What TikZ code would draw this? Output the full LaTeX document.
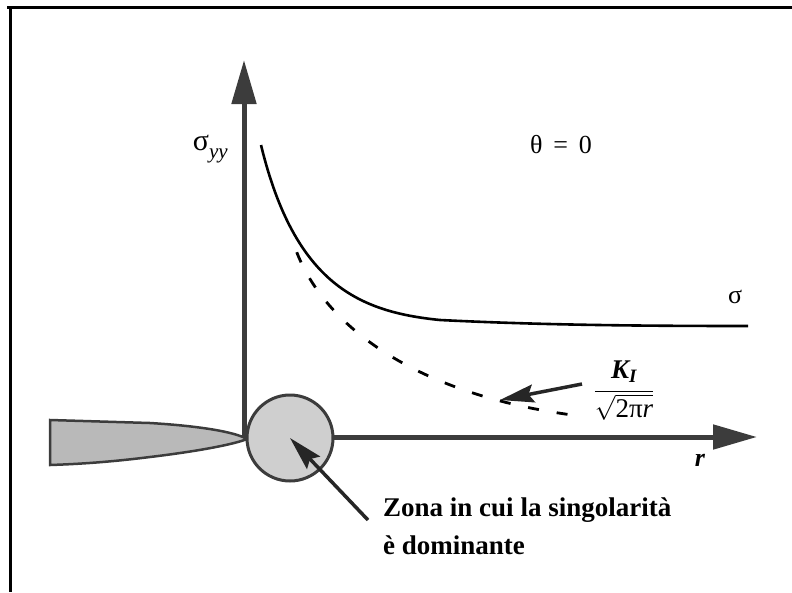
\documentclass[tikz,border=0pt]{standalone}
\usepackage{amsmath}
\usepackage{fontspec}
\setmainfont{Liberation Serif}
\usetikzlibrary{arrows.meta}
\definecolor{axisgray}{HTML}{3C3C3C}
\tikzset{
  axis/.style={draw=axisgray, line width=5pt, -{Triangle[length=44pt,width=24pt]}},
  pointer/.style={draw=black!85, line width=3.5pt, -{Stealth[length=34pt,width=18pt,inset=5pt]}},
  curve/.style={draw=black, line width=2.6pt},
  dcurve/.style={draw=black, line width=2.8pt, dash pattern=on 11pt off 18pt},
  lbl/.style={inner sep=0pt, font=\fontsize{26}{30}\selectfont},
  frame/.style={draw=black, line width=3pt}
}
\begin{document}
\begin{tikzpicture}[x=1pt,y=-1pt]
\useasboundingbox (0,0) rectangle (792,592);
% frame
\draw[frame] (7,7.5) -- (792,7.5);
\draw[frame] (10,7.5) -- (10,592);
% axes
\coordinate (O) at (244,437);
\coordinate (ytip) at (244,60);
\coordinate (xtip) at (757,437);
\draw[axis] (O) -- (ytip);
\draw[axis] (244,437) -- (xtip);
% crack
\path[fill=gray!55, draw=axisgray, line width=2.5pt]
  (50,420) -- (150,423) .. controls (200,426) and (235,432) .. (247,439)
  .. controls (235,444) and (200,451) .. (150,457)
  .. controls (110,462) and (80,464) .. (50,465) -- cycle;
% singular zone
\node[circle, minimum size=86pt, inner sep=0pt, fill=gray!38, draw=axisgray, line width=3pt] (zone) at (290,438) {};
% curves
\draw[curve] (261,145) .. controls (295,285) and (360,312) .. (440,320)
  .. controls (540,325) and (640,326) .. (748,326);
\draw[dcurve, dash phase=14pt] (292,238) .. controls (315,320) and (410,395) .. (580,416);
% labels
\node[lbl, anchor=base east, font=\fontsize{30}{32}\selectfont] (syy) at (228,150) {σ\raisebox{-0.28em}{\fontsize{21}{22}\selectfont\itshape yy}};
\node[lbl] (theta) at (561,145) {θ\, =\, 0};
\node[lbl] (sig) at (735,297) {σ};
\node[lbl] (rlab) at (700,460) {\bfseries\itshape r};
\node[lbl, font=\fontsize{27}{30}\selectfont] (kfrac) at (624,389) {$\dfrac{\text{\bfseries\itshape K}_{\text{\bfseries\itshape I}}\vphantom{\big|}}{\sqrt{\text{2π\itshape r}}}$};
\node[lbl, anchor=north west, align=left, font=\fontsize{27}{38}\selectfont\bfseries] (zona) at (383,498)
  {Zona in cui la singolarità\\è dominante};
% pointers
\coordinate (ktail) at (582,384);
\coordinate (ktip) at (500,400);
\draw[pointer] (ktail) -- (ktip);
\coordinate (ztail) at (368,520);
\draw[pointer] (ztail) -- (zone.center);
\end{tikzpicture}
\end{document}
